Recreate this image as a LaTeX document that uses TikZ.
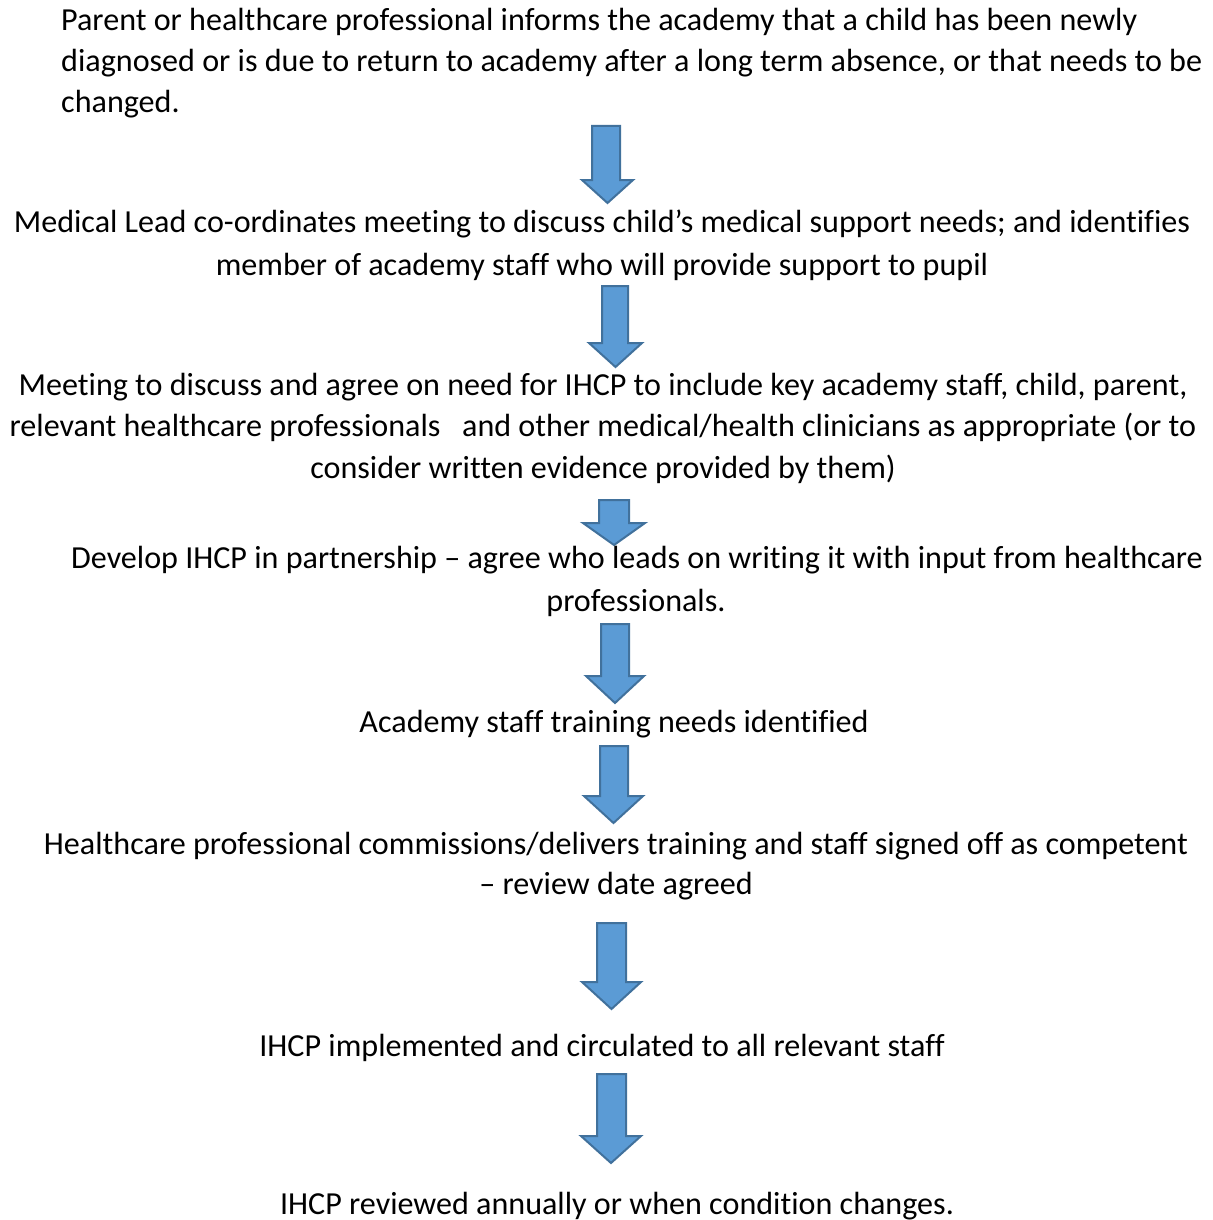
\documentclass[tikz,border=0pt]{standalone}
\usepackage{fontspec}
\setmainfont{Carlito}[Ligatures=CommonOff]
\definecolor{arrfill}{HTML}{5B9BD5}
\definecolor{arrline}{HTML}{41719C}
\tikzset{
  txt/.style={anchor=base, inner sep=0pt, font=\fontsize{32.1}{41}\selectfont},
  txtl/.style={txt, anchor=base west},
  blockarrow/.style={fill=arrfill, draw=arrline, line width=2pt, line join=miter}
}
% #1 shaft left, #2 shaft right, #3 head left, #4 head right, #5 top, #6 head base, #7 tip
\newcommand{\downarrowshape}[7]{%
  \draw[blockarrow] (#1,#5) -- (#2,#5) -- (#2,#6) -- (#4,#6) -- ({(#3+#4)/2},#7) -- (#3,#6) -- (#1,#6) -- cycle;}
\begin{document}
\begin{tikzpicture}[x=1pt,y=-1pt]
\useasboundingbox[fill=white] (0,0) rectangle (1212,1220);
% block 1
\node[txtl] (b1a) at (61,30.5) {Parent or healthcare professional informs the academy that a child has been newly};
\node[txtl] (b1b) at (61,71.5) {diagnosed or is due to return to academy after a long term absence, or that needs to be};
\node[txtl] (b1c) at (61,112.5) {changed.};
\downarrowshape{592}{620}{582}{633}{126}{180}{203}
% block 2
\node[txt] (b2a) at (602,232.5) {Medical Lead co-ordinates meeting to discuss child’s medical support needs; and identifies};
\node[txt] (b2b) at (602,275.5) {member of academy staff who will provide support to pupil};
\downarrowshape{602}{628}{589}{642}{286}{343}{367}
% block 3
\node[txt] (b3a) at (603,395.5) {Meeting to discuss and agree on need for IHCP to include key academy staff, child, parent,};
\node[txt] (b3b) at (603,436.5) {relevant healthcare professionals\ \ \ and other medical/health clinicians as appropriate (or to};
\node[txt] (b3c) at (603,478.5) {consider written evidence provided by them)};
\downarrowshape{599}{629}{583}{645}{500}{523}{545}
% block 4
\node[txt] (b4a) at (637,568.5) {Develop IHCP in partnership – agree who leads on writing it with input from healthcare};
\node[txt] (b4b) at (636,611.5) {professionals.};
\downarrowshape{601}{629}{586}{644}{624}{676}{703}
% block 5
\node[txt] (b5a) at (614,732.5) {Academy staff training needs identified};
\downarrowshape{600}{628}{584}{643}{746}{796}{823}
% block 6
\node[txt] (b6a) at (616,854.5) {Healthcare professional commissions/delivers training and staff signed off as competent};
\node[txt] (b6b) at (616,894.5) {– review date agreed};
\downarrowshape{597}{626}{582}{641}{923}{982}{1009}
% block 7
\node[txt] (b7a) at (602,1056.5) {IHCP implemented and circulated to all relevant staff};
\downarrowshape{597}{626}{581}{641}{1074}{1136}{1163}
% block 8
\node[txt] (b8a) at (617,1214.5) {IHCP reviewed annually or when condition changes.};
\end{tikzpicture}
\end{document}
